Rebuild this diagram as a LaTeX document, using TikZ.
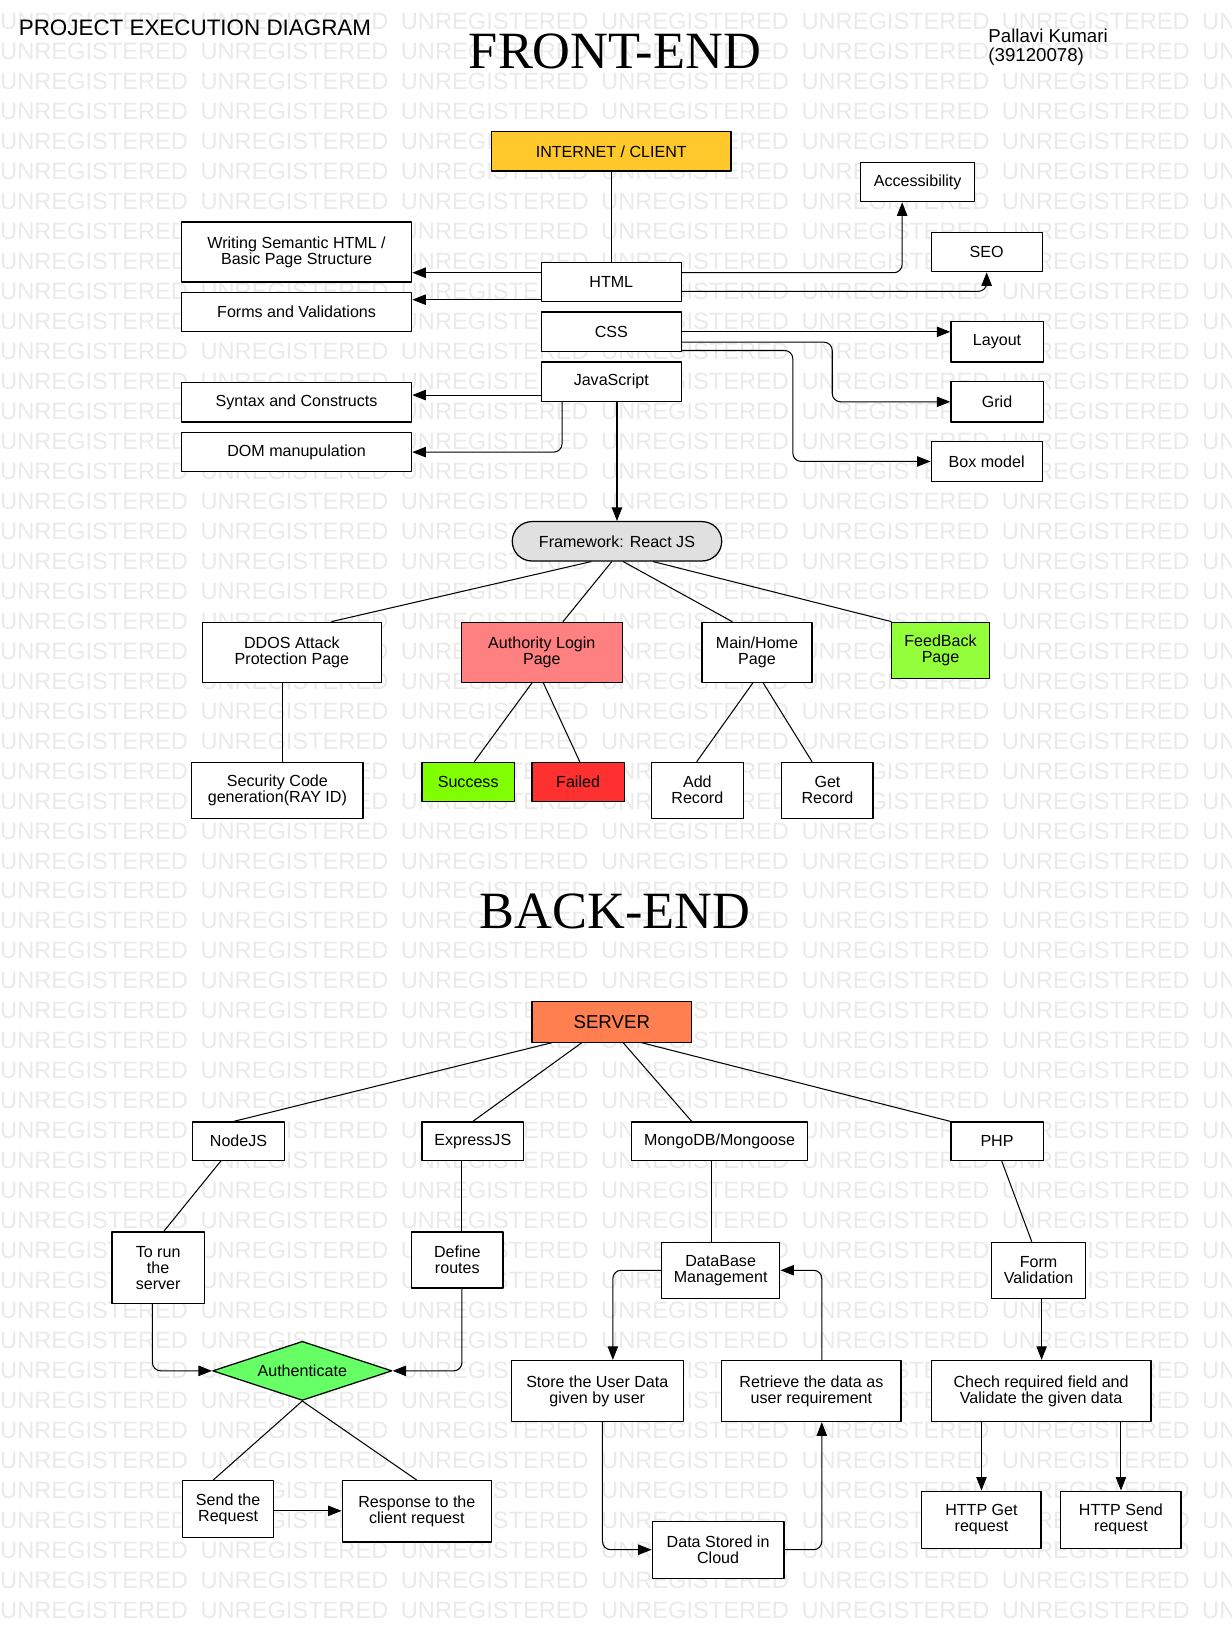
\documentclass[tikz,border=0pt]{standalone}
\usepackage{fontspec}
\setmainfont{Liberation Sans}
\newfontfamily\headfont{Liberation Serif}
\usepackage{tikz}
\usetikzlibrary{arrows.meta,shapes.geometric}

\definecolor{clientgold}{RGB}{255,201,44}
\definecolor{reactgray}{RGB}{224,224,224}
\definecolor{loginred}{RGB}{255,128,128}
\definecolor{okgreen}{RGB}{128,255,0}
\definecolor{feedgreen}{RGB}{146,255,58}
\definecolor{failred}{RGB}{255,48,48}
\definecolor{servercoral}{RGB}{255,127,80}
\definecolor{authgreen}{RGB}{102,255,102}
\definecolor{wmgray}{RGB}{234,234,234}

\tikzset{
  blk/.style 2 args={draw, fill=white, line width=1.2pt, align=center, inner sep=0pt,
    minimum width=#1, minimum height=#2, font=\fontsize{15.5}{15.5}\selectfont},
  wmark/.style={anchor=west, inner sep=0pt, text=wmgray, font=\fontsize{22.8}{22.8}\selectfont},
  wire/.style={line width=1pt},
  flow/.style={line width=1pt, ->, rounded corners=8pt},
}

\begin{document}
\begin{tikzpicture}[x=1pt, y=-1pt, line cap=round, line join=round, >={Triangle[length=13pt,width=10pt]}]
\useasboundingbox (0,0) rectangle (1188,1570);
\clip (0,0) rectangle (1188,1570);
\fill[white] (0,0) rectangle (1188,1570);
\foreach \row in {0,...,53}
  \foreach \col in {0,...,6}
    \node[wmark] at (193.2*\col, 21+28.9*\row) {UNREGISTERED};

\node[anchor=west, inner sep=0pt, font=\fontsize{21.6}{21.6}\selectfont] (title) at (18,27) {PROJECT EXECUTION DIAGRAM};
\node[inner sep=0pt, font=\headfont\fontsize{50.5}{50.5}\selectfont] (frontend) at (593,49.5) {FRONT-END};
\node[anchor=north west, align=left, inner sep=0pt, font=\fontsize{18}{18}\selectfont] (author) at (953,28) {Pallavi Kumari\\(39120078)};
\node[inner sep=0pt, font=\headfont\fontsize{50.5}{50.5}\selectfont] (backend) at (593,878.5) {BACK-END};

\node[blk={231}{38}, fill=clientgold] (client) at (589.5,146) {INTERNET / CLIENT};
\node[blk={135}{38}] (html) at (589.5,272) {HTML};
\node[blk={135}{38}] (css) at (589.5,320) {CSS};
\node[blk={135}{38}] (js) at (589.5,368) {JavaScript};
\node[blk={222}{58}] (semantic) at (286,243) {Writing Semantic HTML /\\Basic Page Structure};
\node[blk={222}{38}] (forms) at (286,301) {Forms and Validations};
\node[blk={222}{38}] (syntax) at (286,388) {Syntax and Constructs};
\node[blk={222}{38}] (dom) at (286,436) {DOM manupulation};
\node[blk={110}{38}] (access) at (885,175.5) {Accessibility};
\node[blk={107}{38}] (seo) at (951.5,243) {SEO};
\node[blk={89}{39}] (layout) at (961.5,329.5) {Layout};
\node[blk={89}{39}] (grid) at (961.5,387.5) {Grid};
\node[blk={107}{38}] (boxmodel) at (951.5,445) {Box model};
\node[blk={202}{38}, fill=reactgray, rounded corners=19pt] (react) at (595,522) {Framework: React JS};

\node[blk={173}{58}] (ddos) at (281.5,629) {DDOS Attack\\Protection Page};
\node[blk={155}{58}, fill=loginred] (login) at (522.5,629) {Authority Login\\Page};
\node[blk={106}{58}] (home) at (730,629) {Main/Home\\Page};
\node[blk={94}{54}, fill=feedgreen] (feedback) at (907,627) {FeedBack\\Page};
\node[blk={165}{54}] (raycode) at (267.5,762) {Security Code\\generation(RAY ID)};
\node[blk={89}{38}, fill=okgreen] (success) at (451.5,754) {Success};
\node[blk={89}{38}, fill=failred] (failed) at (557.5,754) {Failed};
\node[blk={89}{54}] (addrec) at (672.5,762) {Add\\Record};
\node[blk={88}{54}] (getrec) at (798,762) {Get\\Record};

\node[blk={154}{39}, fill=servercoral, font=\fontsize{18}{18}\selectfont] (server) at (590,985.5) {SERVER};
\node[blk={88}{37}] (nodejs) at (230,1100.5) {NodeJS};
\node[blk={98}{37}] (express) at (456,1100.5) {ExpressJS};
\node[blk={170}{37}] (mongo) at (694,1100.5) {MongoDB/Mongoose};
\node[blk={89}{37}] (php) at (961.5,1100.5) {PHP};
\node[blk={89}{69}] (torun) at (152.5,1222.5) {To run\\the\\server};
\node[blk={88}{54}] (routes) at (441,1215) {Define\\routes};
\node[blk={114}{54}] (dbm) at (695,1225) {DataBase\\Management};
\node[blk={91}{54}] (formval) at (1001.5,1225) {Form\\Validation};
\node[blk={173}{57}, diamond, aspect=3, fill=authgreen] (auth) at (291.5,1322) {Authenticate};
\node[blk={88}{55}] (sendreq) at (220,1455.5) {Send the\\Request};
\node[blk={144}{59}] (response) at (402,1457.5) {Response to the\\client request};
\node[blk={166}{59}] (store) at (576,1341.5) {Store the User Data\\given by user};
\node[blk={173}{59}] (retrieve) at (782.5,1341.5) {Retrieve the data as\\user requirement};
\node[blk={127}{55}] (cloud) at (692.5,1494.5) {Data Stored in\\Cloud};
\node[blk={212}{59}] (check) at (1004,1341.5) {Chech required field and\\Validate the given data};
\node[blk={115}{55}] (httpget) at (946.5,1465.5) {HTTP Get\\request};
\node[blk={116}{55}] (httpsend) at (1081,1465.5) {HTTP Send\\request};

\draw[wire] (client) -- (html);
\draw[flow] ([yshift=9]html.west) -- ([yshift=9]html.west -| semantic.east);
\draw[flow] ([yshift=-17]html.west) -- ([yshift=-17]html.west -| forms.east);
\draw[flow] ([yshift=9]html.east) -| ([xshift=-15]access.south);
\draw[flow] ([yshift=-9]html.east) -| (seo.south);
\draw[flow] (css.east) -- (css.east -| layout.west);
\draw[flow] ([yshift=-10]css.east) -- ++(145,0) |- (grid.west);
\draw[flow] ([yshift=-18]css.east) -- ++(107,0) |- (boxmodel.west);
\draw[flow] ([yshift=-13]js.west) -- ([yshift=-13]js.west -| syntax.east);
\draw[flow] ([xshift=-47.5]js.south) |- (dom.east);
\draw[flow] (js.south -| react.north) -- (react.north);

\draw[wire] ([xshift=-25]react.south) -- ([xshift=38.5]ddos.north);
\draw[wire] ([xshift=-5]react.south) -- ([xshift=20.5]login.north);
\draw[wire] ([xshift=6]react.south) -- ([xshift=-24]home.north);
\draw[wire] ([xshift=35]react.south) -- (feedback.north west);
\draw[wire] ([xshift=-9.5]ddos.south) -- ([xshift=4.5]raycode.north);
\draw[wire] ([xshift=-9.5]login.south) -- ([xshift=6]success.north);
\draw[wire] ([xshift=1.5]login.south) -- ([xshift=1.5]failed.north);
\draw[wire] ([xshift=-4]home.south) -- ([xshift=-0.5]addrec.north);
\draw[wire] ([xshift=6]home.south) -- ([xshift=-15]getrec.north);

\draw[wire] ([xshift=-58]server.south) -- ([xshift=-4.5]nodejs.north);
\draw[wire] ([xshift=-29]server.south) -- (express.north);
\draw[wire] ([xshift=11]server.south) -- ([xshift=-27]mongo.north);
\draw[wire] ([xshift=29]server.south) -- (php.north west);
\draw[wire] ([xshift=-17]nodejs.south) -- ([xshift=5.5]torun.north);
\draw[wire] ([xshift=-10.5]express.south) -- ([xshift=4.5]routes.north);
\draw[wire] ([xshift=-8]mongo.south) -- ([xshift=-8]mongo.south |- dbm.north);
\draw[wire] ([xshift=4.5]php.south) -- ([xshift=-6.5]formval.north);
\draw[flow] ([xshift=-5.5]torun.south) |- (auth.west);
\draw[flow] ([xshift=4.5]routes.south) |- (auth.east);
\draw[wire] (auth.south) -- ([xshift=-14.5]sendreq.north);
\draw[wire] (auth.south) -- (response.north);
\draw[flow] ([yshift=-1.5]sendreq.east) -- ([yshift=-1.5]sendreq.east -| response.west);
\draw[flow] (dbm.west) -| ([xshift=15]store.north);
\draw[flow] ([xshift=10]retrieve.north) |- (dbm.east);
\draw[flow] ([xshift=5]store.south) |- (cloud.west);
\draw[flow] (cloud.east) -| ([xshift=10]retrieve.south);
\draw[flow] ([xshift=3]formval.south) -- ([xshift=3]formval.south |- check.north);
\draw[flow] (httpget.north |- check.south) -- (httpget.north);
\draw[flow] (httpsend.north |- check.south) -- (httpsend.north);
\end{tikzpicture}
\end{document}
